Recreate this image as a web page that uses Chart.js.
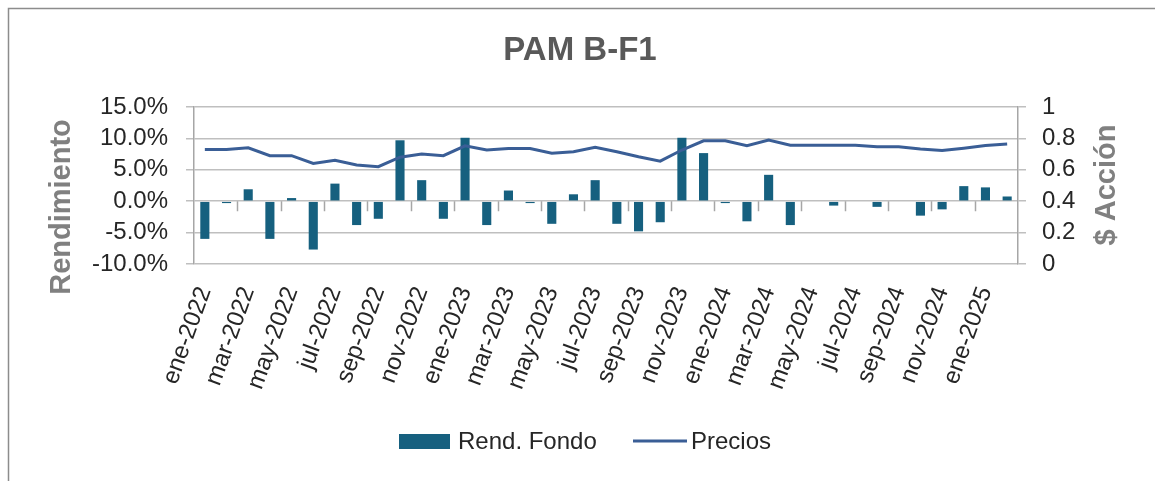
<!DOCTYPE html>
<html>
<head>
  <meta charset="UTF-8">
  <title>PAM B-F1</title>
  <script src="https://cdn.jsdelivr.net/npm/chart.js@4.4.4/dist/chart.umd.min.js"></script>
  <style>
    html, body { margin: 0; padding: 0; background: #fff; }
    #wrap { width: 1155px; height: 481px; }
  </style>
</head>
<body>
<div id="wrap"><canvas id="chart" width="1155" height="481"></canvas></div>

<script>
  // —— data ——————————————————————————————————————
  const months = ['ene','feb','mar','abr','may','jun','jul','ago','sep','oct','nov','dic'];
  const labels = [];
  for (let y = 2022; y <= 2025; y++) {
    for (let m = 0; m < 12; m++) {
      if (y === 2025 && m > 1) break;
      labels.push(months[m] + '-' + y);
    }
  }

  // Rend. Fondo, monthly return in %
  const rendFondo = [
    -6.0, -0.3, 1.9, -6.0, 0.5, -7.7, 2.8, -3.8, -2.8, 9.7, 3.35, -2.8,
    10.1, -3.8, 1.7, -0.3, -3.6, 1.1, 3.35, -3.6, -4.8, -3.35, 10.1, 7.66,
    -0.3, -3.2, 4.2, -3.8, 0, -0.7, 0, -0.9, 0, -2.3, -1.3, 2.4,
    2.2, 0.75
  ];

  // Precios, $ per share
  const precios = [
    0.73, 0.73, 0.74, 0.69, 0.69, 0.64, 0.66, 0.63, 0.62, 0.68, 0.70, 0.69,
    0.753, 0.726, 0.736, 0.736, 0.706, 0.715, 0.743, 0.715, 0.683, 0.655, 0.726, 0.785,
    0.785, 0.753, 0.79, 0.757, 0.757, 0.757, 0.757, 0.747, 0.747, 0.732, 0.723, 0.738,
    0.755, 0.764
  ];

  const BAR_COLOR = '#16607f';
  const LINE_COLOR = '#3a5e96';
  const GRID = '#bfbfbf';
  const FONT = '"Liberation Sans", Arial, sans-serif';

  // —— frame, titles, legend, category ticks ——————————
  const decor = {
    id: 'decor',
    beforeDraw(chart) {
      const c = chart.ctx;
      c.save();
      c.fillStyle = '#fff';
      c.fillRect(0, 0, chart.width, chart.height);
      c.strokeStyle = '#8c8c8c';
      c.lineWidth = 1.5;
      c.beginPath();
      c.moveTo(8.5, chart.height);
      c.lineTo(8.5, 8.5);
      c.lineTo(chart.width, 8.5);
      c.stroke();
      c.restore();
    },
    beforeDatasetsDraw(chart) {
      // category axis line sits at 0%, tick marks every 2 months
      const c = chart.ctx;
      const x = chart.scales.x, y = chart.scales.y;
      const y0 = y.getPixelForValue(0);
      const step = x.getPixelForValue(1) - x.getPixelForValue(0);
      c.save();
      c.strokeStyle = '#a6a6a6';
      c.lineWidth = 1.5;
      c.beginPath();
      for (let i = 2; i < labels.length; i += 2) {
        const px = Math.round(x.getPixelForValue(i) - step / 2) + 0.5;
        c.moveTo(px, y0);
        c.lineTo(px, y0 + 10);
      }
      c.stroke();
      c.restore();
    },
    afterDraw(chart) {
      const c = chart.ctx;
      c.save();
      // title
      c.fillStyle = '#595959';
      c.font = 'bold 33px ' + FONT;
      c.textAlign = 'center';
      c.textBaseline = 'middle';
      c.fillText('PAM B-F1', 580, 51);

      // axis titles
      c.fillStyle = '#808080';
      c.font = 'bold 29px ' + FONT;
      c.save();
      c.translate(62, 207);
      c.rotate(-Math.PI / 2);
      c.fillText('Rendimiento', 0, 0);
      c.restore();
      c.save();
      c.translate(1107, 185);
      c.rotate(-Math.PI / 2);
      c.fillText('$ Acción', 0, 0);
      c.restore();

      // legend
      c.font = '24px ' + FONT;
      c.fillStyle = BAR_COLOR;
      c.fillRect(399, 434, 51, 15);
      c.fillStyle = '#262626';
      c.textAlign = 'left';
      c.fillText('Rend. Fondo', 458, 442);
      c.strokeStyle = LINE_COLOR;
      c.lineWidth = 3;
      c.beginPath();
      c.moveTo(633, 441);
      c.lineTo(687, 441);
      c.stroke();
      c.fillText('Precios', 691, 442);
      c.restore();
    }
  };

  new Chart(document.getElementById('chart'), {
    data: {
      labels: labels,
      datasets: [
        {
          type: 'line',
          label: 'Precios',
          data: precios,
          yAxisID: 'y1',
          borderColor: LINE_COLOR,
          borderWidth: 3,
          pointRadius: 0,
          tension: 0,
          order: 0
        },
        {
          type: 'bar',
          label: 'Rend. Fondo',
          data: rendFondo,
          yAxisID: 'y',
          backgroundColor: BAR_COLOR,
          categoryPercentage: 1,
          barPercentage: 0.42,
          order: 1
        }
      ]
    },
    options: {
      responsive: false,
      animation: false,
      layout: { padding: { top: 107, left: 0, right: 0, bottom: 0 } },
      plugins: {
        legend: { display: false },
        title: { display: false },
        tooltip: { enabled: false }
      },
      scales: {
        x: {
          type: 'category',
          offset: true,
          grid: { display: false },
          border: { display: false },
          ticks: {
            autoSkip: false,
            maxRotation: 70,
            minRotation: 70,
            padding: 11,
            color: '#262626',
            font: { family: FONT, size: 24 },
            callback: function (v, i) { return i % 2 === 0 ? labels[i] : ''; }
          },
          afterFit: s => { s.height = 481 - 264; }
        },
        y: {
          position: 'left',
          min: -10,
          max: 15,
          ticks: {
            autoSkip: false,
            stepSize: 5,
            padding: 18,
            color: '#262626',
            font: { family: FONT, size: 24 },
            callback: v => v.toFixed(1) + '%'
          },
          grid: { color: GRID, lineWidth: 1.5, tickLength: 8 },
          border: { color: '#a6a6a6', width: 1.5 },
          afterFit: s => { s.width = 194; }
        },
        y1: {
          position: 'right',
          min: 0,
          max: 1,
          ticks: {
            autoSkip: false,
            stepSize: 0.2,
            padding: 16,
            color: '#262626',
            font: { family: FONT, size: 24 },
            callback: v => String(+v.toFixed(1))
          },
          grid: { drawOnChartArea: false, color: GRID, lineWidth: 1.5, tickLength: 8 },
          border: { color: '#a6a6a6', width: 1.5 },
          afterFit: s => { s.width = 1155 - 1018; }
        }
      }
    },
    plugins: [decor]
  });
</script>
</body>
</html>
